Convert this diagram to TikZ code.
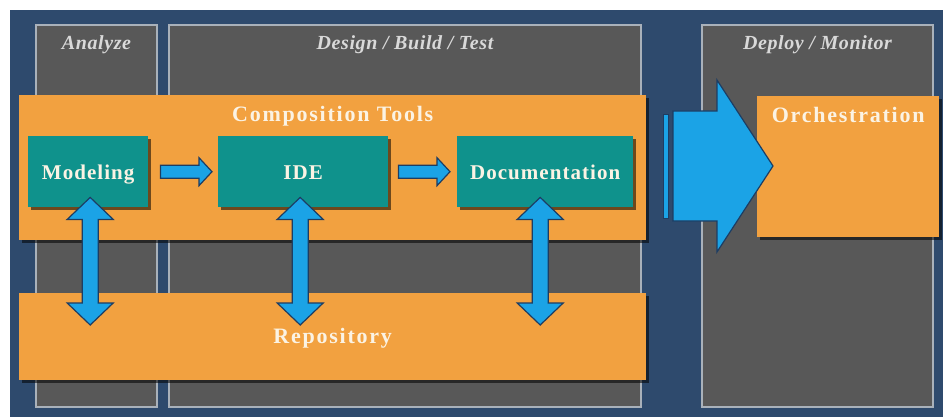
\documentclass[tikz,border=0pt]{standalone}
\usepackage{fontspec}
\setmainfont{Liberation Serif}
\newfontfamily\boxfont[LetterSpace=5]{Liberation Serif}
\newfontfamily\wideboxfont[LetterSpace=8]{Liberation Serif}
\newfontfamily\phasefont[LetterSpace=3]{Liberation Serif}
\usetikzlibrary{calc,shadows}

\definecolor{navybg}{HTML}{2E4A6D}
\definecolor{panelgray}{HTML}{585858}
\definecolor{panelline}{HTML}{A9B1BA}
\definecolor{toolorange}{HTML}{F2A140}
\definecolor{toolteal}{HTML}{0F928C}
\definecolor{arrowblue}{HTML}{1BA3E6}
\definecolor{arrowedge}{HTML}{1D3D63}
\definecolor{cream}{HTML}{FBF3E4}
\definecolor{phasegray}{HTML}{D9D9D9}

% right-pointing block arrow from a start point to a tip point
\newcommand\rightfat[2]{%
  \path[fatarrow] let \p1=(#1), \p2=(#2) in
    (\x1,{\y1+6.5pt}) -- ({\x2-13pt},{\y1+6.5pt}) -- ({\x2-13pt},{\y1+14pt})
    -- (\x2,\y1) -- ({\x2-13pt},{\y1-14pt}) -- ({\x2-13pt},{\y1-6.5pt})
    -- (\x1,{\y1-6.5pt}) -- cycle;}

% vertical two-headed block arrow between a top tip and a bottom tip
\newcommand\updownfat[2]{%
  \path[fatarrow] let \p1=(#1), \p2=(#2) in
    (\x1,\y1) -- ({\x1+23pt},{\y1-22pt}) -- ({\x1+8pt},{\y1-22pt})
    -- ({\x1+8pt},{\y2+22pt}) -- ({\x1+23pt},{\y2+22pt}) -- (\x1,\y2)
    -- ({\x1-23pt},{\y2+22pt}) -- ({\x1-8pt},{\y2+22pt})
    -- ({\x1-8pt},{\y1-22pt}) -- ({\x1-23pt},{\y1-22pt}) -- cycle;}

\begin{document}
\begin{tikzpicture}[x=1pt,y=-1pt,
  panel/.style={draw=panelline, line width=2pt, fill=panelgray,
    anchor=north west, inner sep=0pt},
  boxshadow/.style={drop shadow={shadow xshift=3pt, shadow yshift=-3pt,
    opacity=0.55, fill=black}},
  orangebox/.style={fill=toolorange, anchor=north west, inner sep=0pt, boxshadow},
  tealbox/.style={fill=toolteal, anchor=north west, inner sep=0pt, boxshadow,
    text=cream, font=\boxfont\fontsize{21}{21}\selectfont\bfseries,
    text height=16pt, text depth=0pt},
  phase/.style={text=phasegray, inner sep=0pt, anchor=base,
    font=\phasefont\fontsize{20}{20}\selectfont\bfseries\itshape},
  toollabel/.style={text=cream, inner sep=0pt, anchor=base,
    font=\wideboxfont\fontsize{22}{22}\selectfont\bfseries},
  fatarrow/.style={fill=arrowblue, draw=arrowedge, line width=1.2pt,
    line join=miter},
]
\useasboundingbox (0,0) rectangle (943,417);
\fill[navybg] (10,10) rectangle (943,417);

% lifecycle phases
\node[panel, minimum width=121pt, minimum height=382pt] (an) at (35,24) {};
\node[panel, minimum width=472pt, minimum height=382pt] (dbt) at (168,24) {};
\node[panel, minimum width=231pt, minimum height=382pt] (dm) at (701,24) {};
\node[phase] (anlbl) at ($(an.north)+(0,25.5)$) {Analyze};
\node[phase] (dbtlbl) at ($(dbt.north)+(0,25.5)$) {Design / Build / Test};
\node[phase] (dmlbl) at ($(dm.north)+(0,25.5)$) {Deploy / Monitor};

% tool bands
\node[orangebox, minimum width=627pt, minimum height=145pt] (comp) at (19,95) {};
\node[toollabel] (complbl) at ($(comp.north)+(0,27)$) {Composition Tools};
\node[orangebox, minimum width=627pt, minimum height=87pt] (repo) at (19,293) {};
\node[toollabel] (repolbl) at ($(repo.center)+(0,7)$) {Repository};

% composition tools
\node[tealbox, minimum width=120pt, minimum height=71pt] (mod) at (28,136) {Modeling};
\node[tealbox, minimum width=170pt, minimum height=71pt] (ide) at (218,136) {IDE};
\node[tealbox, minimum width=176pt, minimum height=71pt] (doc) at (457,136) {Documentation};

% tool chain
\rightfat{$(mod.east)+(12,0)$}{$(ide.west)+(-6,0)$}
\rightfat{$(ide.east)+(10,0)$}{$(doc.west)+(-7,0)$}

% exchange with the repository
\updownfat{[xshift=2pt,yshift=10pt]mod.south}{[yshift=-32pt]repo.north}
\updownfat{[xshift=-3pt,yshift=10pt]ide.south}{[yshift=-32pt]repo.north}
\updownfat{[xshift=-5pt,yshift=10pt]doc.south}{[yshift=-32pt]repo.north}

% deployment target
\node[orangebox, minimum width=182pt, minimum height=141pt] (orch) at (757,96) {};
\node[toollabel] (orchlbl) at ($(orch.north)+(0,27)$) {Orchestration};

% hand-over to deployment
\path[fatarrow, line width=0.8pt] (663,114) rectangle (668,218);
\path[fatarrow] (673,111) -- (717,111) -- (717,80) -- (773,166) -- (717,252)
  -- (717,221) -- (673,221) -- cycle;
\end{tikzpicture}
\end{document}
